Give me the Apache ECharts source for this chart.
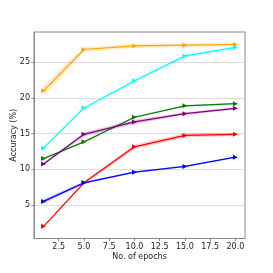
<!DOCTYPE html>
<html><head><meta charset="utf-8">
<script src="https://cdn.jsdelivr.net/npm/echarts@6/dist/echarts.min.js"></script>
<style>html,body{margin:0;padding:0;background:#fff}#c{width:273px;height:273px}</style>
</head><body><div id="c"></div>
<script>
const epochs = [1, 5, 10, 15, 20];
const xTicks = [2.5, 5, 7.5, 10, 12.5, 15, 17.5, 20];
const yTicks = [5, 10, 15, 20, 25];

const orange = [21.0, 26.8, 27.3, 27.4, 27.5];
const orangeErr = [0.7, 0.35, 0.3, 0.25, 0.2];
const cyan = [13.0, 18.6, 22.4, 25.9, 27.1];
const cyanErr = [0.1, 0.1, 0.1, 0.15, 0.15];
const green = [11.5, 13.85, 17.3, 18.9, 19.2];
const greenErr = [0.1, 0.1, 0.15, 0.1, 0.1];
const purple = [10.75, 14.9, 16.65, 17.8, 18.55];
const purpleErr = [0.15, 0.3, 0.3, 0.2, 0.15];
const red = [2.0, 8.1, 13.15, 14.75, 14.9];
const redErr = [0.1, 0.2, 0.3, 0.3, 0.2];
const blue = [5.5, 8.1, 9.6, 10.4, 11.7];
const blueErr = [0.3, 0.2, 0.1, 0.1, 0.1];

const seriesDefs = [
  {name: 'orange', vals: orange, err: orangeErr, color: '#FFA500'},
  {name: 'cyan', vals: cyan, err: cyanErr, color: '#00FFFF'},
  {name: 'green', vals: green, err: greenErr, color: '#008000'},
  {name: 'purple', vals: purple, err: purpleErr, color: '#800080'},
  {name: 'red', vals: red, err: redErr, color: '#FF0000'},
  {name: 'blue', vals: blue, err: blueErr, color: '#0000FF'}
];

const series = [];
seriesDefs.forEach(d => {
  const bandData = epochs.map((x, i) => [x, d.vals[i] - d.err[i], d.vals[i] + d.err[i]]);
  series.push({
    type: 'custom', silent: true, z: 1,
    data: bandData,
    encode: {x: 0, y: [1, 2]},
    renderItem: function (params, api) {
      if (params.dataIndex !== 0) return null;
      const upper = [], lower = [];
      bandData.forEach(p => {
        upper.push(api.coord([p[0], p[2]]));
        lower.push(api.coord([p[0], p[1]]));
      });
      return {
        type: 'polygon',
        shape: {points: upper.concat(lower.reverse())},
        style: {fill: d.color, opacity: 0.22}
      };
    }
  });
});
seriesDefs.forEach(d => {
  series.push({
    type: 'line', name: d.name, z: 3,
    symbol: 'triangle', symbolRotate: -90, symbolSize: 5,
    lineStyle: {color: d.color, width: 1.2},
    itemStyle: {color: d.color},
    data: epochs.map((x, i) => [x, d.vals[i]])
  });
});

const font = 'DejaVu Sans';
const chart = echarts.init(document.getElementById('c'), null, {renderer: 'canvas'});
chart.setOption({
  animation: false,
  grid: {left: 34, top: 32, right: 28, bottom: 34.5, show: true, borderColor: '#888', borderWidth: 1,
    backgroundColor: 'transparent', containLabel: false, outerBoundsMode: 'none'},
  xAxis: {
    type: 'value', min: 0.05, max: 20.95,
    name: 'No. of epochs', nameLocation: 'middle', nameGap: 14, nameMoveOverlap: false,
    nameTextStyle: {fontFamily: font, fontSize: 8, color: '#222', verticalAlign: 'top'},
    axisLine: {show: true, onZero: false, lineStyle: {color: '#888', width: 1}},
    axisTick: {show: true, length: 2.5, inside: false, customValues: xTicks, lineStyle: {color: '#888'}},
    axisLabel: {customValues: xTicks, fontFamily: font, fontSize: 8, color: '#222', margin: 4,
      formatter: v => Number(v).toFixed(1)},
    splitLine: {show: false}
  },
  yAxis: {
    type: 'value', min: 0.3, max: 29.25,
    name: 'Accuracy (%)', nameLocation: 'middle', nameGap: 20, nameMoveOverlap: false,
    nameTextStyle: {fontFamily: font, fontSize: 8, color: '#222', verticalAlign: 'middle'},
    axisLine: {show: true, onZero: false, lineStyle: {color: '#888', width: 1}},
    axisTick: {show: true, length: 2.5, customValues: yTicks, lineStyle: {color: '#888'}},
    axisLabel: {customValues: yTicks, fontFamily: font, fontSize: 8, color: '#222', margin: 4},
    splitLine: {show: true, lineStyle: {color: '#dcdcdc', width: 1}}
  },
  series: series
});
</script></body></html>
